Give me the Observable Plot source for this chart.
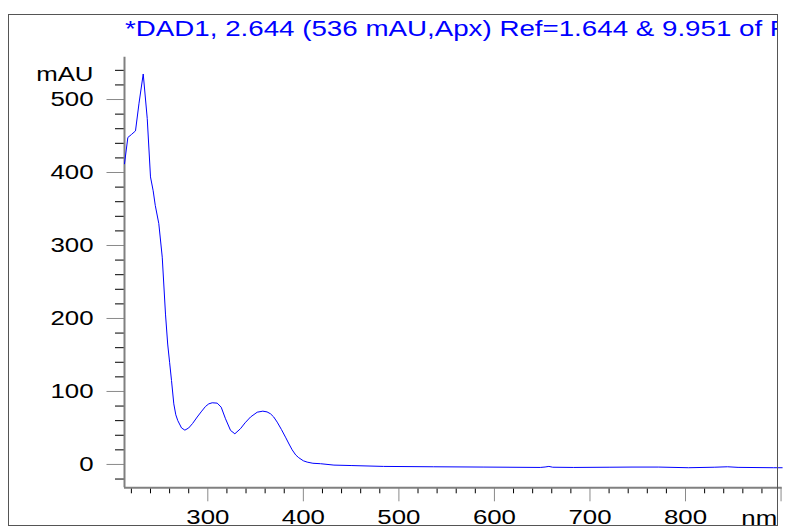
<!DOCTYPE html>
<html><head><meta charset="utf-8">
<script src="https://cdn.jsdelivr.net/npm/d3@7"></script>
<script src="https://cdn.jsdelivr.net/npm/@observablehq/plot@0.6"></script>
<style>
body{margin:0;background:#fff;}
#wrap{position:relative;width:787px;height:530px;overflow:hidden;}
#chart{position:absolute;left:0;top:0;}
#frame{position:absolute;left:8px;top:14px;width:770px;height:512px;border:1px solid #555;box-sizing:border-box;overflow:hidden;pointer-events:none;}
#title{position:absolute;left:116px;top:3px;font-family:"Liberation Sans",Arial,sans-serif;font-size:22px;line-height:22px;color:#0000ff;white-space:nowrap;transform:scaleX(1.26);transform-origin:0 0;}
</style></head><body>
<div id="wrap"><div id="chart"></div><div id="frame"><div id="title"></div></div></div>
<script>
const titleText = "*DAD1, 2.644 (536 mAU,Apx) Ref=1.644 & 9.951 of F";
const yUnit = "mAU";
const xUnit = "nm";

const wavelength = [212.8,216.3,220,224.3,228,232.4,236.6,240,242.8,245,248.7,252.3,255.7,258,260,262,264.4,266.5,268.6,272.5,276,280,284,288.9,293,297.6,301,304.6,309.8,314,318.5,323.8,328.3,334.2,339,344.7,351.7,357.6,362,365.6,369,372.6,377,381.3,385,388.3,392,395.2,400,404,410,418,432,450,484,536,589,648,653,657,661,683,720,744,772,803,830,844,855,892,901.2];
const absorbance = [412,448,452,457,495,535,474,394,375,355,330,284,206,165,140,115,83,68,60,50,47,50,56,65,72,79.5,83,84.5,84,78.5,62.6,46.6,42,49,57,65,71.6,73,72,69.4,65,58,48,37.4,28,20,13,9.2,5,3.2,1.6,1,-0.9,-1.5,-2.7,-3.2,-3.6,-4.1,-3.5,-2.7,-3.8,-4.1,-3.8,-3.6,-3.6,-4.5,-3.8,-3.2,-4.0,-4.5,-4.5];

const xMajorTicks = [300,400,500,600,700,800,900];
const xTickLabels = ["300","400","500","600","700","800",""];
const xMinorTicks = [220,240,260,280,320,340,360,380,420,440,460,480,520,540,560,580,620,640,660,680,720,740,760,780,820,840,860,880];
const yMajorTicks = [0,100,200,300,400,500];
const yTickLabels = ["0","100","200","300","400","500"];
const yMinorTicks = [-20,20,40,60,80,120,140,160,180,220,240,260,280,320,340,360,380,420,440,460,480,520,540];
const xDomain = [212.8, 901.2];
const yDomain = [-32, 558];

document.getElementById("title").textContent = titleText;

const data = wavelength.map((w, i) => ({w, a: absorbance[i]}));

const plot = Plot.plot({
  width: 787, height: 530,
  marginLeft: 124, marginRight: 5.3, marginTop: 56.7, marginBottom: 42.7,
  style: {fontFamily: '"Liberation Sans", Arial, sans-serif', fontSize: "20.5px", color: "#000", background: "transparent", overflow: "visible"},
  x: {domain: xDomain, label: null},
  y: {domain: yDomain, label: null},
  marks: [
    Plot.axisY(yMinorTicks, {anchor: "left", tickSize: 9, stroke: "#000", fill: "none", label: null}),
    Plot.axisY(yMajorTicks, {anchor: "left", tickSize: 17.5, tickPadding: 13.5, stroke: "#8a8a8a", fill: "#000", label: null, tickFormat: d => yTickLabels[yMajorTicks.indexOf(d)]}),
    Plot.axisX(xMinorTicks, {anchor: "bottom", tickSize: 6, stroke: "#000", fill: "none", label: null}),
    Plot.axisX(xMajorTicks, {anchor: "bottom", tickSize: 14, tickPadding: 8, stroke: "#8a8a8a", fill: "#000", label: null, tickFormat: d => xTickLabels[xMajorTicks.indexOf(d)]}),
    Plot.ruleX([xDomain[0]], {stroke: "#808080", strokeWidth: 2}),
    Plot.ruleY([yDomain[0]], {stroke: "#808080", strokeWidth: 2}),
    Plot.line(data, {x: "w", y: "a", stroke: "#0000ff", strokeWidth: 1}),
    Plot.text([yUnit], {frameAnchor: "top-left", textAnchor: "end", lineAnchor: "bottom", dx: -31, dy: 23.3, fill: "#000"}),
    Plot.text([xUnit], {frameAnchor: "bottom-right", textAnchor: "end", lineAnchor: "bottom", dx: -5, dy: 36.7, fill: "#000"})
  ]
});

d3.select(plot).selectAll("text").attr("transform", function () {
  return (this.getAttribute("transform") || "") + " scale(1.26,1)";
});

document.getElementById("chart").appendChild(plot);
</script>
</body></html>
